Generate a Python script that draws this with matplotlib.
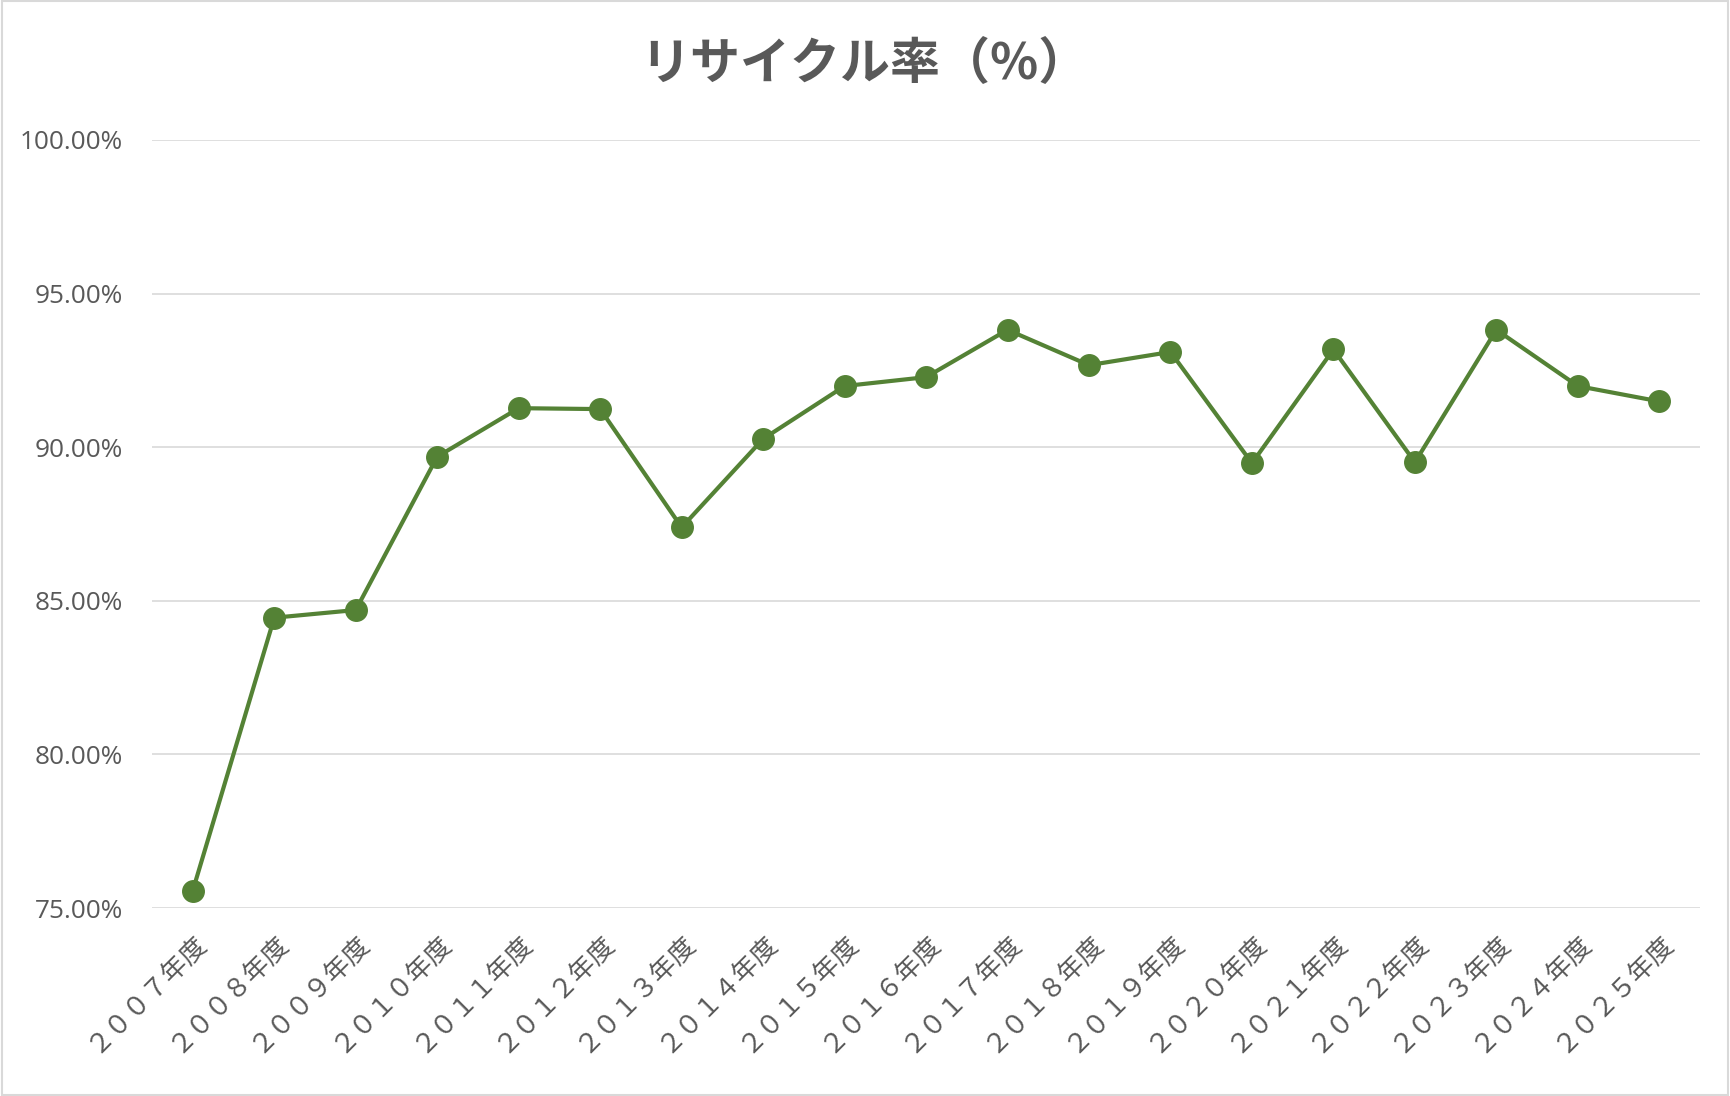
import matplotlib
matplotlib.use('Agg')
from matplotlib import pyplot as plt
from matplotlib.ticker import FuncFormatter
from matplotlib.patches import Rectangle

plt.rcParams['font.family'] = ['Noto Sans CJK JP', 'DejaVu Sans']

# データ
years = ['２００７年度', '２００８年度', '２００９年度', '２０１０年度', '２０１１年度',
         '２０１２年度', '２０１３年度', '２０１４年度', '２０１５年度', '２０１６年度',
         '２０１７年度', '２０１８年度', '２０１９年度', '２０２０年度', '２０２１年度',
         '２０２２年度', '２０２３年度', '２０２４年度', '２０２５年度']
rates = [75.57, 84.45, 84.70, 89.69, 91.27, 91.24, 87.39, 90.27, 91.99, 92.28,
         93.82, 92.67, 93.10, 89.48, 93.18, 89.51, 93.82, 91.99, 91.49]
y_ticks = [75, 80, 85, 90, 95, 100]

text_color = '#595959'
line_color = '#548235'

fig = plt.figure(figsize=(17.3, 10.96), dpi=100)
ax = fig.add_axes([0.0879, 0.1715, 0.8948, 0.7008])

x = list(range(len(years)))
ax.plot(x, rates, color=line_color, linewidth=3.0, marker='o',
        markersize=15.5, markerfacecolor=line_color, markeredgecolor=line_color,
        zorder=3)

ax.set_xlim(-0.5, len(years) - 0.5)
ax.set_ylim(75, 100)
ax.set_yticks(y_ticks)
ax.yaxis.set_major_formatter(FuncFormatter(lambda v, p: '%.2f%%' % v))
ax.grid(axis='y', color='#d9d9d9', linewidth=1.2)
ax.set_axisbelow(True)
for s in ax.spines.values():
    s.set_visible(False)
ax.tick_params(axis='both', length=0, colors=text_color)
ax.tick_params(axis='y', pad=21)
for lab in ax.get_yticklabels():
    lab.set_family(['Open Sans', 'DejaVu Sans'])
    lab.set_fontsize(18.8)

ax.set_xticks(x)
ax.set_xticklabels(years, rotation=45, ha='right', va='top',
                   rotation_mode='anchor', fontsize=18.8, color=text_color)
ax.tick_params(axis='x', pad=14)

fig.text(0.4995, 0.941, 'リサイクル率（%）', ha='center', va='center',
         fontsize=36, fontweight='bold', color=text_color)

# chart border
fig.patches.append(Rectangle((0.001, 0.001), 0.998, 0.998, transform=fig.transFigure,
                             fill=False, edgecolor='#d9d9d9', linewidth=1.5))

fig.savefig('out.png', dpi=100)
